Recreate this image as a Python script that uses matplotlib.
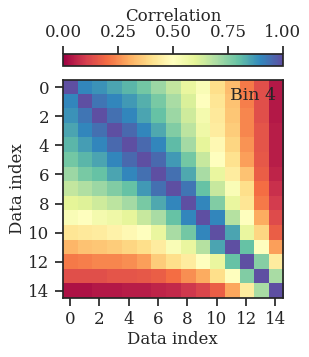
import numpy as np
import matplotlib
matplotlib.use('Agg')
import matplotlib.pyplot as plt

# correlation matrix (rows/cols = data index 0..14)
corr = np.array([
    [1.00, 0.90, 0.88, 0.85, 0.82, 0.78, 0.72, 0.66, 0.58, 0.52, 0.40, 0.33, 0.22, 0.14, 0.04],
    [0.90, 1.00, 0.93, 0.90, 0.87, 0.83, 0.77, 0.70, 0.62, 0.50, 0.42, 0.34, 0.23, 0.14, 0.04],
    [0.88, 0.93, 1.00, 0.94, 0.90, 0.85, 0.80, 0.72, 0.64, 0.54, 0.43, 0.35, 0.24, 0.14, 0.04],
    [0.85, 0.90, 0.94, 1.00, 0.95, 0.90, 0.84, 0.76, 0.67, 0.56, 0.44, 0.36, 0.24, 0.15, 0.05],
    [0.82, 0.86, 0.90, 0.95, 1.00, 0.95, 0.90, 0.81, 0.71, 0.59, 0.48, 0.38, 0.26, 0.15, 0.05],
    [0.78, 0.82, 0.85, 0.90, 0.95, 1.00, 0.95, 0.87, 0.78, 0.65, 0.50, 0.41, 0.28, 0.16, 0.05],
    [0.72, 0.77, 0.80, 0.85, 0.90, 0.94, 1.00, 0.94, 0.84, 0.70, 0.58, 0.44, 0.34, 0.17, 0.06],
    [0.66, 0.69, 0.72, 0.76, 0.80, 0.87, 0.94, 1.00, 0.93, 0.80, 0.65, 0.52, 0.40, 0.20, 0.08],
    [0.60, 0.61, 0.64, 0.67, 0.71, 0.77, 0.84, 0.90, 1.00, 0.90, 0.76, 0.58, 0.42, 0.22, 0.10],
    [0.52, 0.50, 0.54, 0.56, 0.59, 0.65, 0.70, 0.80, 0.90, 1.00, 0.90, 0.68, 0.50, 0.30, 0.13],
    [0.42, 0.43, 0.44, 0.46, 0.48, 0.50, 0.58, 0.70, 0.78, 0.90, 1.00, 0.85, 0.58, 0.38, 0.17],
    [0.32, 0.34, 0.35, 0.36, 0.38, 0.40, 0.44, 0.52, 0.58, 0.68, 0.85, 1.00, 0.80, 0.50, 0.28],
    [0.22, 0.23, 0.24, 0.24, 0.25, 0.28, 0.36, 0.40, 0.44, 0.50, 0.58, 0.80, 1.00, 0.75, 0.44],
    [0.14, 0.14, 0.14, 0.15, 0.15, 0.16, 0.17, 0.20, 0.25, 0.30, 0.40, 0.50, 0.76, 1.00, 0.70],
    [0.03, 0.03, 0.04, 0.04, 0.05, 0.05, 0.06, 0.07, 0.09, 0.12, 0.17, 0.29, 0.44, 0.70, 1.00],
])
ticks = np.arange(0, 15, 2)
cbar_ticks = [0.0, 0.25, 0.5, 0.75, 1.0]
bin_label = 'Bin 4'

dark = '#262626'
plt.rcParams.update({
    'font.family': 'DejaVu Serif',
    'font.size': 12,
    'text.color': dark,
    'axes.labelcolor': dark,
    'axes.edgecolor': dark,
    'axes.linewidth': 1.25,
    'xtick.color': dark,
    'ytick.color': dark,
    'xtick.major.size': 6,
    'ytick.major.size': 6,
    'xtick.major.width': 1.25,
    'ytick.major.width': 1.25,
    'xtick.labelsize': 12,
    'ytick.labelsize': 12,
})

fig = plt.figure(figsize=(3.09, 3.57), dpi=100)
ax = fig.add_axes([0.203, 0.165, 0.712, 0.611])
cax = fig.add_axes([0.205, 0.816, 0.710, 0.032])

im = ax.imshow(corr, cmap='Spectral', vmin=0, vmax=1, aspect='auto',
               interpolation='nearest')
ax.set_xticks(ticks)
ax.set_yticks(ticks)
ax.set_xlabel('Data index', labelpad=2)
ax.set_ylabel('Data index', labelpad=2)
ax.text(0.97, 0.97, bin_label, transform=ax.transAxes, ha='right', va='top',
        fontsize=12.5, color=dark)

cb = fig.colorbar(im, cax=cax, orientation='horizontal', ticks=cbar_ticks,
                  format='%.2f')
cb.ax.xaxis.set_ticks_position('top')
cb.ax.xaxis.set_label_position('top')
cb.set_label('Correlation', labelpad=2)
cb.outline.set_linewidth(1.25)
cb.outline.set_edgecolor(dark)

fig.savefig('out.png', dpi=100)
